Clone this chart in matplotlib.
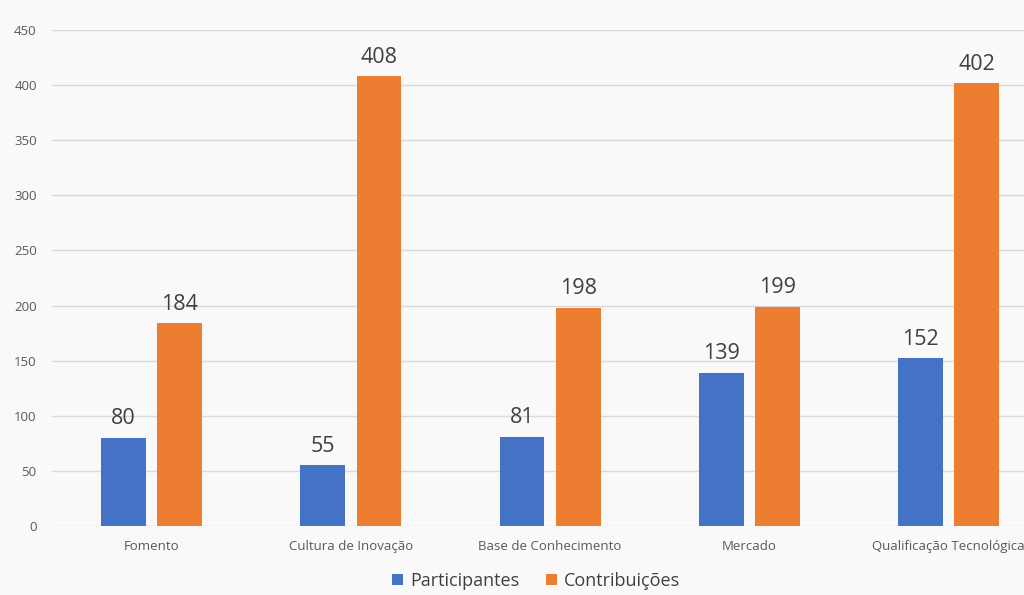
import matplotlib
matplotlib.use('Agg')
import matplotlib.pyplot as plt
import numpy as np

# Chart data
categories = ['Fomento', 'Cultura de Inovação', 'Base de Conhecimento', 'Mercado', 'Qualificação Tecnológica']
participantes = [80, 55, 81, 139, 152]
contribuicoes = [184, 408, 198, 199, 402]
y_ticks = [0, 50, 100, 150, 200, 250, 300, 350, 400, 450]

blue = '#4472C4'
orange = '#ED7D31'
bg = '#f9f9f9'

plt.rcParams['font.family'] = ['Open Sans', 'DejaVu Sans']

fig = plt.figure(figsize=(10.24, 5.95), dpi=100, facecolor=bg)
ax = fig.add_axes([52 / 1024, 69 / 595, (1024 - 52) / 1024, 496 / 595])
ax.set_facecolor(bg)

x = np.arange(len(categories))
w = 0.225
off = 0.141
b1 = ax.bar(x - off, participantes, w, color=blue, label='Participantes', zorder=3)
b2 = ax.bar(x + off, contribuicoes, w, color=orange, label='Contribuições', zorder=3)

# Value labels above bars
for bars in (b1, b2):
    for rect in bars:
        h = rect.get_height()
        ax.annotate(f'{int(h)}', (rect.get_x() + rect.get_width() / 2, h),
                    xytext=(0, 6), textcoords='offset points',
                    ha='center', va='bottom', fontsize=15.5, color='#404040')

ax.set_xlim(-0.5, (1024 - 52) / 199.25 - 0.5)
ax.set_ylim(0, 450)
ax.set_yticks(y_ticks)
ax.set_yticklabels([str(v) for v in y_ticks], fontsize=9.5, color='#595959')
ax.set_xticks(x)
ax.set_xticklabels(categories, fontsize=9.5, color='#595959')
ax.tick_params(axis='x', length=0, pad=10)
ax.tick_params(axis='y', length=0, pad=11)
ax.grid(axis='y', color='#d9d9d9', linewidth=1, zorder=0)
for s in ax.spines.values():
    s.set_visible(False)

fig.legend(handles=[b1, b2], loc='center', bbox_to_anchor=(536 / 1024, 1 - 581 / 595),
           ncol=2, frameon=False, fontsize=13, handlelength=0.6, handleheight=0.6,
           handletextpad=0.4, columnspacing=1.5, labelcolor='#404040')

fig.savefig('out.png', dpi=100, facecolor=bg)
